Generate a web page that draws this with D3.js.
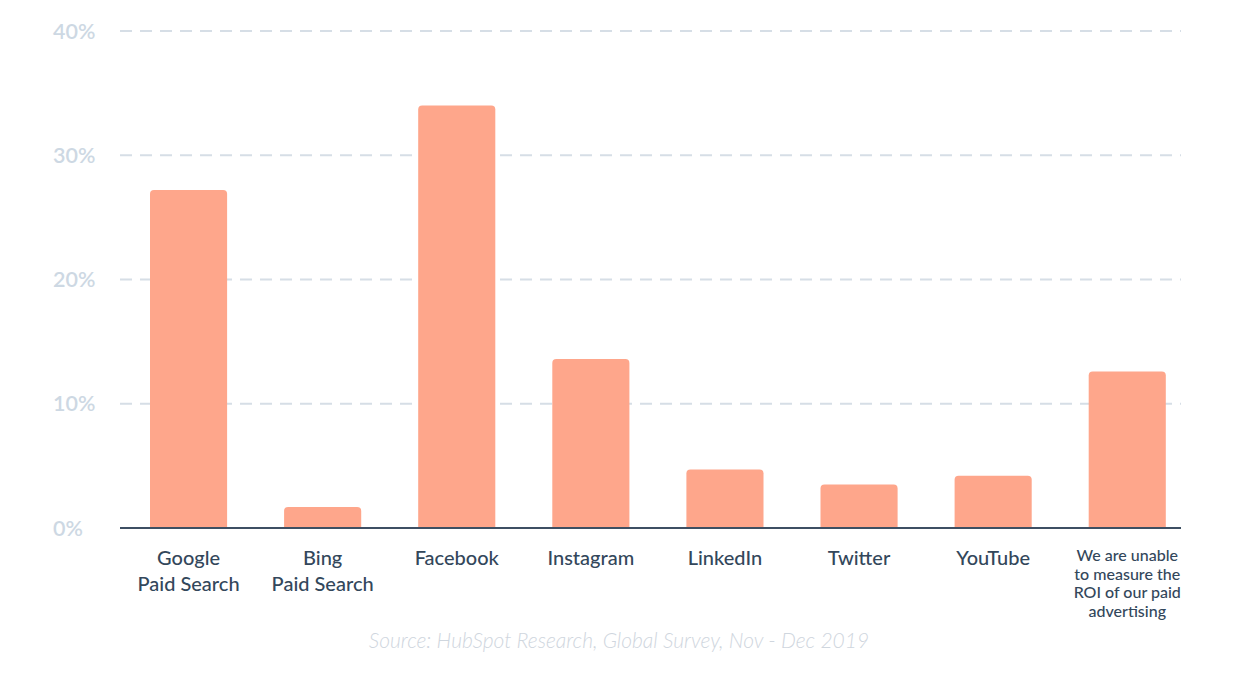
<!DOCTYPE html>
<html><head><meta charset="utf-8">
<script src="https://cdn.jsdelivr.net/npm/d3@7/dist/d3.min.js"></script>
<style>body{margin:0;background:#fff;} svg{display:block;font-family:Lato, "Open Sans", sans-serif;}</style>
</head><body>
<svg id="c" width="1239" height="676"></svg>
<script>
const categories = ["Google|Paid Search","Bing|Paid Search","Facebook","Instagram","LinkedIn","Twitter","YouTube","We are unable|to measure the|ROI of our paid|advertising"];
const values = [27.2, 1.7, 34.0, 13.6, 4.7, 3.5, 4.2, 12.6];
const yTicks = [0, 10, 20, 30, 40];
const sourceText = "Source: HubSpot Research, Global Survey, Nov - Dec 2019";

const svg = d3.select("#c");
const y = d3.scaleLinear().domain([0, 40]).range([528, 31]);
const x = d3.scaleBand().domain(d3.range(categories.length)).range([121.5, 1194.3]).paddingInner(0.425).paddingOuter(0.2125);

// grid
svg.append("g").selectAll("line").data(yTicks.filter(d => d > 0)).join("line")
  .attr("x1", 120).attr("x2", 1181).attr("y1", d => y(d)).attr("y2", d => y(d))
  .attr("stroke", "#d6dee6").attr("stroke-width", 2).attr("stroke-dasharray", "12,8");

// y labels
svg.append("g").selectAll("text").data(yTicks).join("text")
  .attr("x", 53).attr("y", d => y(d) + 7.5)
  .attr("fill", "#cdd8e3").attr("font-size", 21.5).attr("font-weight", 600)
  .text(d => d + "%");

// bars with rounded top corners
const r = 4;
svg.append("g").selectAll("path").data(values).join("path")
  .attr("fill", "#fea68b")
  .attr("d", (d, i) => {
    const x0 = x(i), w = x.bandwidth(), top = y(d), bot = y(0);
    return `M${x0},${bot}V${top + r}Q${x0},${top} ${x0 + r},${top}H${x0 + w - r}Q${x0 + w},${top} ${x0 + w},${top + r}V${bot}Z`;
  });

// baseline
svg.append("line").attr("x1", 120).attr("x2", 1181).attr("y1", y(0)).attr("y2", y(0))
  .attr("stroke", "#3d4f63").attr("stroke-width", 2);

// x labels
const xl = svg.append("g").selectAll("text").data(categories).join("text")
  .attr("text-anchor", "middle").attr("fill", "#33475b")
  .attr("font-size", (d) => d.split("|").length > 2 ? 16 : 20)
  .attr("font-weight", 500);
xl.each(function(d, i) {
  const lines = d.split("|");
  const small = lines.length > 2;
  const lh = small ? 18.7 : 26;
  const y0 = small ? 561 : 565;
  d3.select(this).selectAll("tspan").data(lines).join("tspan")
    .attr("x", x(i) + x.bandwidth() / 2).attr("y", (l, k) => y0 + k * lh).text(l => l);
});

// source
svg.append("text").attr("x", 619).attr("y", 648).attr("text-anchor", "middle")
  .attr("fill", "#cfd6de").attr("font-size", 21).attr("font-style", "italic").attr("font-weight", 300)
  .text(sourceText);
</script>
</body></html>
